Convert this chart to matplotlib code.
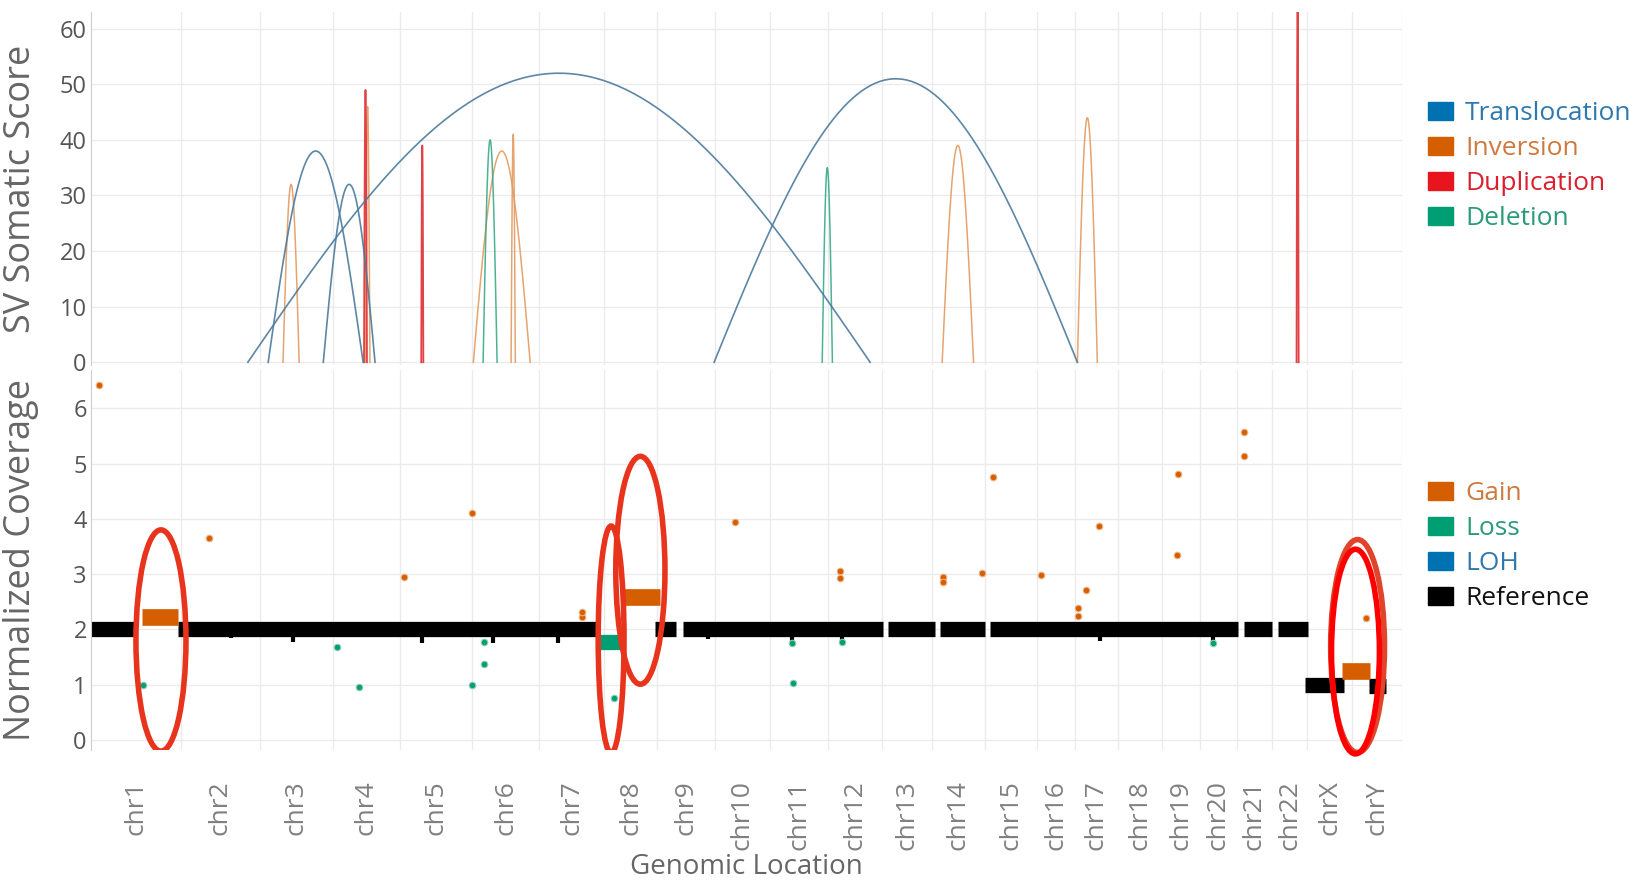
import numpy as np
import matplotlib.pyplot as plt
from matplotlib.patches import Patch, Ellipse

plt.rcParams['font.family'] = ['Open Sans', 'DejaVu Sans']

# chromosome order and displayed length (Mb) along the genome axis
chroms = ['chr1', 'chr2', 'chr3', 'chr4', 'chr5', 'chr6', 'chr7', 'chr8', 'chr9',
          'chr10', 'chr11', 'chr12', 'chr13', 'chr14', 'chr15', 'chr16', 'chr17',
          'chr18', 'chr19', 'chr20', 'chr21', 'chr22', 'chrX', 'chrY']
chrom_len = [212, 186, 172, 158, 170, 160, 153, 125, 135, 130, 137, 127,
             120, 123, 123, 90, 101, 104, 90, 87, 83, 83, 106, 118]

# SV calls (genome-wide Mb) and somatic score
trans_start = [370, 1470, 418, 548]
trans_end = [1838, 2327, 642, 670]
trans_score = [52, 51, 38, 32]
inv_start = [453, 647, 902, 991, 2008, 2327]
inv_end = [491, 658, 1036, 1001, 2082, 2374]
inv_score = [32, 46, 38, 41, 39, 44]
dup_start = [644, 779, 2844]
dup_end = [651, 784, 2849]
dup_score = [49, 39, 66]
del_start = [925, 1725]
del_end = [958, 1749]
del_score = [40, 35]

# copy number segments
ref_start = [0, 205, 1331, 1397, 1881, 2004, 2122, 2719, 2801, 2865, 3014]
ref_end = [104, 1194, 1381, 1869, 1992, 2110, 2707, 2787, 2872, 2955, 3054]
ref_level = [2.0, 2.0, 2.0, 2.0, 2.0, 2.0, 2.0, 2.0, 2.0, 1.0, 0.97]
ref_dip_x = [477, 781, 949, 1102, 1654, 1772, 2380, 2648, 1455, 330]
ref_dip_y = [1.78, 1.76, 1.76, 1.75, 1.80, 1.80, 1.80, 1.78, 1.82, 1.84]
gain_seg_start = [120, 1256, 2952]
gain_seg_end = [205, 1343, 3018]
gain_seg_level = [2.22, 2.58, 1.25]
loss_seg_start = [1201]
loss_seg_end = [1251]
loss_seg_level = [1.78]

# single-bin calls
gain_x = [19, 279, 739, 899, 1159, 1159, 1520, 1768, 1768, 2011, 2011, 2103, 2129,
          2242, 2329, 2329, 2348, 2379, 2561, 2565, 2721, 2721, 3009]
gain_y = [6.42, 3.65, 2.95, 4.10, 2.22, 2.32, 3.94, 3.05, 2.93, 2.95, 2.86, 3.02, 4.75,
          2.98, 2.38, 2.25, 2.71, 3.87, 3.35, 4.81, 5.57, 5.14, 2.20]
loss_x = [123, 581, 633, 899, 928, 928, 1234, 1654, 1657, 1772, 2648]
loss_y = [1.00, 1.68, 0.96, 1.00, 1.37, 1.77, 0.76, 1.75, 1.03, 1.78, 1.75]

# highlighted regions (red ovals)
hl_x = [165, 1227, 1296]
hl_y = [1.80, 1.82, 3.07]
hl_w = [118, 61, 116]
hl_h = [4.0, 4.1, 4.12]

C_TRANS = '#0072B2'
C_INV = '#D55E00'
C_DUP = '#E8141E'
C_DEL = '#009E73'
GRID = '#EBEBEB'
TXT = '#666666'

bounds = np.concatenate([[0], np.cumsum(chrom_len)])
centers = (bounds[:-1] + bounds[1:]) / 2
total = bounds[-1]

fig = plt.figure(figsize=(16.37, 8.8), dpi=100)
ax1 = fig.add_axes([0.0556, 0.5852, 0.8009, 0.4011])
ax2 = fig.add_axes([0.0556, 0.1477, 0.8009, 0.4318])

for ax in (ax1, ax2):
    ax.set_xlim(0, total)
    ax.set_xticks(bounds[1:], minor=True)
    ax.set_xticks(centers)
    ax.grid(which='minor', axis='x', color=GRID, lw=1)
    ax.grid(which='major', axis='y', color=GRID, lw=1)
    ax.set_axisbelow(True)
    for s in ('top', 'right', 'bottom'):
        ax.spines[s].set_visible(False)
    ax.spines['left'].set_color('#CCCCCC')
    ax.tick_params(axis='both', which='both', length=0)
    ax.tick_params(axis='y', labelsize=17, labelcolor='#555555', pad=3)


def arc(ax, s, e, h, color, lw, alpha):
    x = np.linspace(s, e, 80)
    y = h * np.sin(np.pi * (x - s) / (e - s))
    ax.plot(x, y, color=color, lw=lw, alpha=alpha)


for s, e, h in zip(inv_start, inv_end, inv_score):
    arc(ax1, s, e, h, '#E39A60', 1.1, 0.9)
for s, e, h in zip(del_start, del_end, del_score):
    arc(ax1, s, e, h, '#3AAA88', 1.1, 0.9)
for s, e, h in zip(dup_start, dup_end, dup_score):
    arc(ax1, s, e, h, '#E0383C', 1.3, 0.95)
for s, e, h in zip(trans_start, trans_end, trans_score):
    arc(ax1, s, e, h, '#4A7A9C', 1.2, 0.9)

ax1.set_ylim(-0.5, 63)
ax1.set_yticks(range(0, 61, 10))
ax1.set_xticklabels([])
ax1.set_ylabel('SV Somatic Score', fontsize=26, color=TXT)
ax1.yaxis.set_label_coords(-0.040, 0.5)

# coverage panel
ax2.hlines(ref_level, ref_start, ref_end, color='black', lw=11)
ax2.vlines(ref_dip_x, 2.0, ref_dip_y, color='black', lw=3)
ax2.hlines(gain_seg_level, gain_seg_start, gain_seg_end, color=C_INV, lw=12)
ax2.hlines(loss_seg_level, loss_seg_start, loss_seg_end, color=C_DEL, lw=11)
ax2.scatter(gain_x, gain_y, s=22, color=C_INV, edgecolor='#F0B080', lw=0.8, zorder=3)
ax2.scatter(loss_x, loss_y, s=22, color=C_DEL, edgecolor='#90D0B8', lw=0.8, zorder=3)

for x, y, w, h in zip(hl_x, hl_y, hl_w, hl_h):
    ax2.add_patch(Ellipse((x, y), w, h, fill=False, ec='#E8341C', lw=4, zorder=5))
ax2.add_patch(Ellipse((2988, 1.70), 127, 3.85, fill=False, ec='#E0442A', lw=4,
                      zorder=5, clip_on=False))
ax2.add_patch(Ellipse((2983, 1.60), 113, 3.70, fill=False, ec='#FF0000', lw=4,
                      zorder=6, clip_on=False))

ax2.set_ylim(-0.18, 6.69)
ax2.set_yticks(range(0, 7))
ax2.set_xticklabels(chroms, rotation=90, fontsize=19, color='#808080')
ax2.tick_params(axis='x', pad=22)
ax2.set_ylabel('Normalized Coverage', fontsize=26, color=TXT)
ax2.yaxis.set_label_coords(-0.040, 0.5)
ax2.set_xlabel('Genomic Location', fontsize=20, color=TXT, labelpad=2)

# legends
leg_kw = dict(loc='upper left', frameon=False, fontsize=19, handlelength=0.95,
              handleheight=0.7, handletextpad=0.45, labelspacing=0.38, borderaxespad=0)

sv_handles = [Patch(color=C_TRANS, label='Translocation'),
              Patch(color=C_INV, label='Inversion'),
              Patch(color=C_DUP, label='Duplication'),
              Patch(color=C_DEL, label='Deletion')]
leg1 = fig.legend(handles=sv_handles, bbox_to_anchor=(0.866, 0.897), **leg_kw)
for t, c in zip(leg1.get_texts(), ['#2F78AE', '#CC7A3E', '#D8202E', '#2A9A78']):
    t.set_color(c)

cn_handles = [Patch(color=C_INV, label='Gain'),
              Patch(color=C_DEL, label='Loss'),
              Patch(color=C_TRANS, label='LOH'),
              Patch(color='black', label='Reference')]
leg2 = fig.legend(handles=cn_handles, bbox_to_anchor=(0.866, 0.465), **leg_kw)
for t, c in zip(leg2.get_texts(), ['#CC7A3E', '#2A9A78', '#2F78AE', '#111111']):
    t.set_color(c)

fig.savefig('out.png', dpi=100)
